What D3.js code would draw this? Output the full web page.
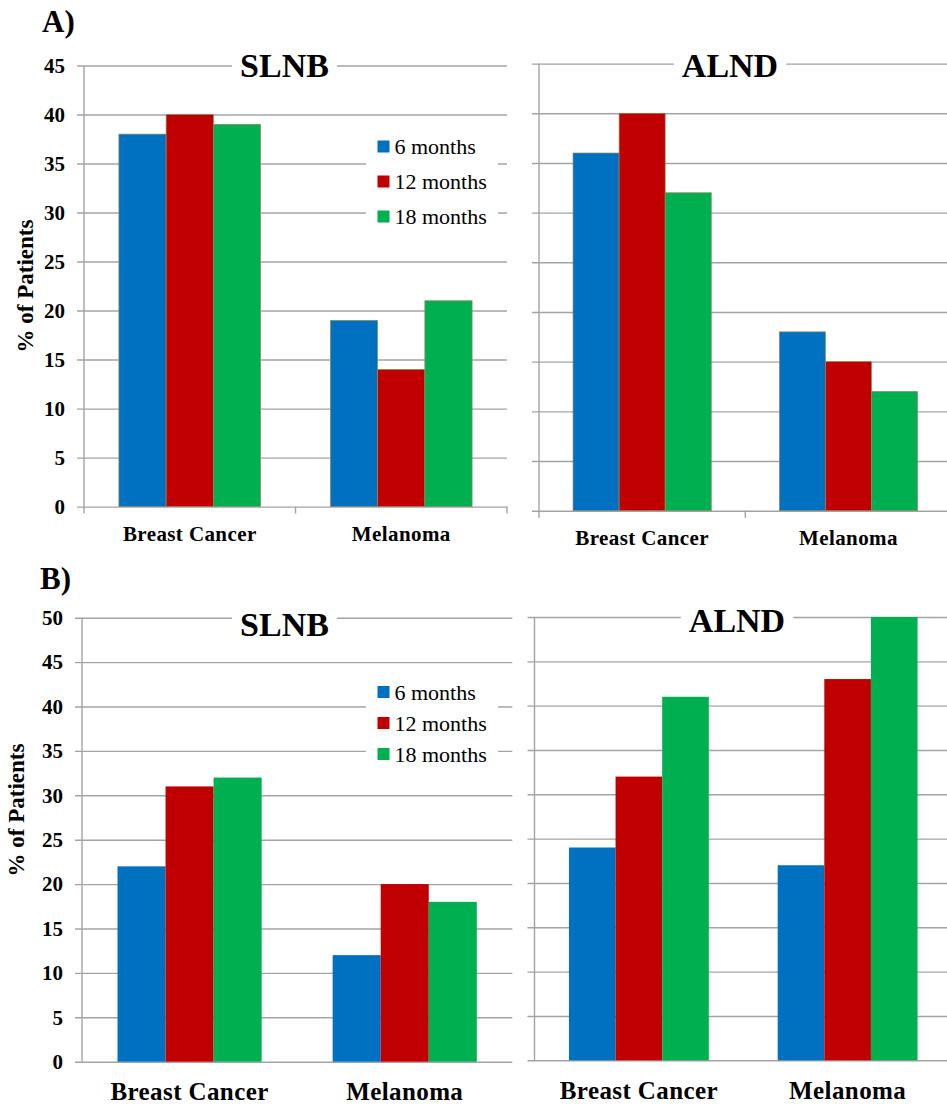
<!DOCTYPE html>
<html>
<head>
<meta charset="utf-8">
<script src="https://cdn.jsdelivr.net/npm/d3@7"></script>
<style>
  body { margin: 0; background: #fff; }
  svg { display: block; }
  text { font-family: "Liberation Serif", "Times New Roman", serif; fill: #000; }
</style>
</head>
<body>
<div class="chart"></div>
<script>
const WIDTH = 947;
const HEIGHT = 1106;

// data
const categories = ['Breast Cancer', 'Melanoma'];
const seriesNames = ['6 months', '12 months', '18 months'];
const colors = ['#0070C0', '#C00000', '#00B050'];

// one array per series, values per category
const slnbA = [[38, 19], [40, 14], [39, 21]];
const alndA = [[36, 18], [40, 15], [32, 12]];
const slnbB = [[22, 12], [31, 20], [32, 18]];
const alndB = [[24, 22], [32, 43], [41, 50]];

const ticksA = [0, 5, 10, 15, 20, 25, 30, 35, 40, 45];
const ticksB = [0, 5, 10, 15, 20, 25, 30, 35, 40, 45, 50];

const GRID = '#a3a3a3';
const P_INNER = 0.33;

var translate = function (x, y) {
  return 'translate(' + x + ',' + y + ')';
};

var svg = d3.select('.chart').append('svg')
  .attr('width', WIDTH)
  .attr('height', HEIGHT);

var panels = [
  { data: slnbA, ticks: ticksA, x0: 84, x1: 507, yTop: 65.5, yBot: 506.6,
    title: 'SLNB', titleX: 284.5, titleY: 77, labels: true, catTicks: true, outline: true,
    catSize: 21, catPad: 19.5, legend: { x: 377.5, y: 146.5, dy: 35 }, yTitle: { x: 25, y: 286 } },
  { data: alndA, ticks: ticksA, x0: 539, x1: 951.6, yTop: 63.6, yBot: 510.7,
    title: 'ALND', titleX: 730, titleY: 77, labels: false, catTicks: true, outline: true,
    catSize: 21, catPad: 19.5 },
  { data: slnbB, ticks: ticksB, x0: 82, x1: 512.3, yTop: 617.7, yBot: 1061.7,
    title: 'SLNB', titleX: 284.5, titleY: 636, labels: true, catTicks: false, outline: false,
    catSize: 25, catPad: 20.5, legend: { x: 377.5, y: 692, dy: 31 }, yTitle: { x: 16, y: 810 } },
  { data: alndB, ticks: ticksB, x0: 534.5, x1: 952, yTop: 617, yBot: 1060.3,
    title: 'ALND', titleX: 737, titleY: 632, labels: false, catTicks: false, outline: false,
    catSize: 25, catPad: 20.5 }
];

var drawPanel = function (p) {
  var g = svg.append('g');

  var x = d3.scaleBand()
    .domain(categories)
    .range([p.x0, p.x1])
    .paddingInner(P_INNER)
    .paddingOuter(P_INNER / 2);

  var xs = d3.scaleBand()
    .domain(d3.range(seriesNames.length))
    .range([0, x.bandwidth()]);

  var y = d3.scaleLinear()
    .domain([0, d3.max(p.ticks)])
    .range([p.yBot, p.yTop]);

  // gridlines + tick labels
  var yAxis = d3.axisLeft(y)
    .tickValues(p.ticks)
    .tickSize(-(Math.min(p.x1, WIDTH) - p.x0 + 7))
    .tickPadding(12)
    .tickFormat(p.labels ? d3.format('d') : '');

  var ga = g.append('g')
    .attr('transform', translate(p.x0 - 7, 0))
    .call(yAxis);
  ga.select('.domain').remove();
  ga.selectAll('line').attr('stroke', GRID).attr('stroke-width', 1.4);
  ga.selectAll('text')
    .style('font-size', '21px')
    .style('font-weight', 'bold')
    .attr('fill', '#000');

  // vertical axis
  g.append('line')
    .attr('x1', p.x0).attr('x2', p.x0)
    .attr('y1', p.yTop).attr('y2', p.yBot + (p.catTicks ? 7 : 0))
    .attr('stroke', GRID).attr('stroke-width', 1.4);

  if (p.catTicks) {
    var bounds = categories.map(function (c) { return x(c) - x.step() * P_INNER / 2; });
    bounds.push(p.x1);
    g.selectAll('.ctick').data(bounds.slice(1))
      .enter().append('line')
      .attr('x1', function (d) { return d; })
      .attr('x2', function (d) { return d; })
      .attr('y1', p.yBot).attr('y2', p.yBot + 7)
      .attr('stroke', GRID).attr('stroke-width', 1.4);
  }

  // bars
  p.data.forEach(function (vals, si) {
    g.selectAll('.bar' + si).data(vals)
      .enter().append('rect')
      .attr('x', function (d, ci) { return x(categories[ci]) + xs(si); })
      .attr('width', xs.bandwidth())
      .attr('y', function (d) { return y(d); })
      .attr('height', function (d) { return y(0) - y(d); })
      .attr('fill', colors[si])
      .attr('stroke', p.outline ? '#8f8a5c' : 'none')
      .attr('stroke-width', 0.7);
  });

  // category labels
  var xAxis = d3.axisBottom(x).tickSize(0).tickPadding(p.catPad);
  var gx = g.append('g')
    .attr('transform', translate(0, p.yBot))
    .call(xAxis);
  gx.select('.domain').remove();
  gx.selectAll('text')
    .style('font-size', p.catSize + 'px')
    .style('font-weight', 'bold')
    .style('letter-spacing', '0.4px')
    .attr('fill', '#000');

  // title with white knock-out over the top gridline
  var t = g.append('text')
    .attr('x', p.titleX).attr('y', p.titleY)
    .attr('text-anchor', 'middle')
    .style('font-size', '34px')
    .style('font-weight', 'bold')
    .text(p.title);
  var tw = t.node().getComputedTextLength();
  g.insert('rect', function () { return t.node(); })
    .attr('x', p.titleX - tw / 2 - 8)
    .attr('y', p.yTop - 8)
    .attr('width', tw + 16)
    .attr('height', 16)
    .attr('fill', '#fff');

  if (p.legend) {
    var L = p.legend;
    g.append('rect')
      .attr('x', 366).attr('y', L.y - L.dy * 0.6)
      .attr('width', 132).attr('height', L.dy * 3.2)
      .attr('fill', '#fff');
    seriesNames.forEach(function (name, i) {
      g.append('rect')
        .attr('x', L.x).attr('y', L.y + i * L.dy - 6)
        .attr('width', 12).attr('height', 12)
        .attr('fill', colors[i]);
      g.append('text')
        .attr('x', L.x + 17).attr('y', L.y + i * L.dy)
        .attr('dy', '0.35em')
        .style('font-size', '22px')
        .text(name);
    });
  }

  if (p.yTitle) {
    g.append('text')
      .attr('transform', translate(p.yTitle.x, p.yTitle.y) + ' rotate(-90)')
      .attr('text-anchor', 'middle')
      .attr('dy', '0.35em')
      .style('font-size', '23px')
      .style('font-weight', 'bold')
      .text('% of Patients');
  }
};

panels.forEach(drawPanel);

svg.append('text')
  .attr('x', 42).attr('y', 32)
  .style('font-size', '31px').style('font-weight', 'bold')
  .text('A)');
svg.append('text')
  .attr('x', 40).attr('y', 589)
  .style('font-size', '31px').style('font-weight', 'bold')
  .text('B)');
</script>
</body>
</html>
